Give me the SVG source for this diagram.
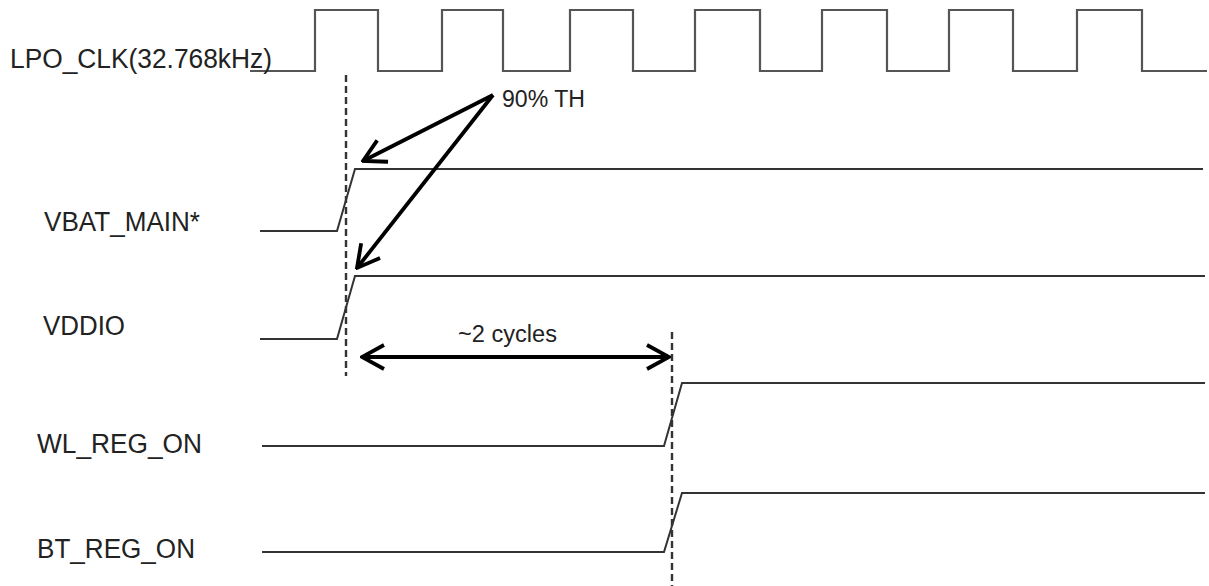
<svg xmlns="http://www.w3.org/2000/svg" width="1209" height="586" viewBox="0 0 1209 586">
<style>
.lbl{font-family:"Liberation Sans",Arial,sans-serif;font-size:27px;fill:#222}
.note{font-family:"Liberation Sans",Arial,sans-serif;font-size:23px;fill:#222}
.sig{fill:none;stroke:#333;stroke-width:2;stroke-linejoin:miter}
.clk{fill:none;stroke:#555;stroke-width:2.2}
.dash{fill:none;stroke:#333;stroke-width:2.4;stroke-dasharray:7,4}
.arr{fill:none;stroke:#000;stroke-width:3.8}
</style>
<defs>
<marker id="ah" markerUnits="userSpaceOnUse" markerWidth="26" markerHeight="28" refX="22" refY="12" orient="auto-start-reverse" viewBox="-2 -2 26 28">
<path d="M0,0 L22,12 L0,24" fill="none" stroke="#000" stroke-width="3.8" stroke-linejoin="miter"/>
</marker>
</defs>
<rect width="1209" height="586" fill="#fff"/>
<g id="lpo_clk">
<path class="clk" d="M250,71 H315 V10 H378 V71 H442 V10 H503 V71 H570 V10 H633 V71 H695 V10 H760 V71 H822 V10 H887 V71 H949 V10 H1013 V71 H1077 V10 H1142 V71 H1207"/>
<text class="lbl" x="10" y="68" textLength="262" lengthAdjust="spacingAndGlyphs">LPO_CLK(32.768kHz)</text>
</g>
<g id="vbat_main">
<path class="sig" d="M260,231 H337 L355,169 H1203"/>
<text class="lbl" x="44" y="231" textLength="156" lengthAdjust="spacingAndGlyphs">VBAT_MAIN*</text>
</g>
<g id="vddio">
<path class="sig" d="M260,339 H337 L355,276 H1205"/>
<text class="lbl" x="43" y="335" textLength="82" lengthAdjust="spacingAndGlyphs">VDDIO</text>
</g>
<g id="wl_reg_on">
<path class="sig" d="M262,446 H664 L682,383 H1205"/>
<text class="lbl" x="37" y="453" textLength="165" lengthAdjust="spacingAndGlyphs">WL_REG_ON</text>
</g>
<g id="bt_reg_on">
<path class="sig" d="M262,552 H664 L682,493 H1205"/>
<text class="lbl" x="37" y="558" textLength="158" lengthAdjust="spacingAndGlyphs">BT_REG_ON</text>
</g>
<g id="connectors">
<line class="dash" x1="346" y1="75" x2="346" y2="376"/>
<line class="dash" x1="672" y1="332" x2="672" y2="586"/>
<line class="arr" x1="493" y1="95" x2="363" y2="161" marker-end="url(#ah)"/>
<line class="arr" x1="493" y1="95" x2="357" y2="268" marker-end="url(#ah)"/>
<line class="arr" x1="362" y1="357" x2="669" y2="357" marker-start="url(#ah)" marker-end="url(#ah)"/>
</g>
<g id="labels">
<text class="note" x="502" y="107" textLength="83" lengthAdjust="spacingAndGlyphs">90% TH</text>
<text class="note" x="458" y="342" textLength="99" lengthAdjust="spacingAndGlyphs">~2 cycles</text>
</g>
</svg>
